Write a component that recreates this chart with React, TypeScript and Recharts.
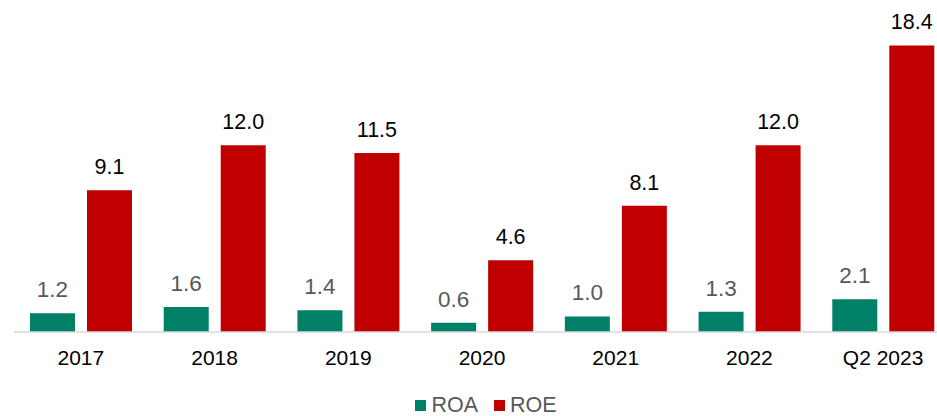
import React from 'react';
import { BarChart, Bar, XAxis, YAxis, Legend, LabelList } from 'recharts';

const categories = ['2017', '2018', '2019', '2020', '2021', '2022', 'Q2 2023'];
const roaValues = [1.2, 1.6, 1.4, 0.6, 1.0, 1.3, 2.1];
const roeValues = [9.1, 12.0, 11.5, 4.6, 8.1, 12.0, 18.4];

const data = categories.map((year, i) => ({
  year,
  ROA: roaValues[i],
  ROE: roeValues[i],
}));

const GREEN = '#008066';
const RED = '#C00000';
const FONT = 'Arial, "Liberation Sans", sans-serif';

function LegendContent() {
  const items = [
    { name: 'ROA', color: GREEN },
    { name: 'ROE', color: RED },
  ];
  return (
    <div
      style={{
        height: 54,
        paddingTop: 33,
        paddingLeft: 7,
        boxSizing: 'border-box',
        display: 'flex',
        justifyContent: 'center',
        gap: 16,
        width: 937,
      }}
    >
      {items.map((it) => (
        <div key={it.name} style={{ display: 'flex', alignItems: 'center', height: 20 }}>
          <span
            style={{ width: 11, height: 11, background: it.color, display: 'inline-block', marginRight: 5 }}
          />
          <span style={{ fontFamily: FONT, fontSize: 21.5, color: '#595959', lineHeight: '20px' }}>
            {it.name}
          </span>
        </div>
      ))}
    </div>
  );
}

export default function App() {
  return (
    <div style={{ position: 'absolute', left: 0, top: 0, width: 937, height: 416, overflow: 'hidden', background: '#fff' }}>
      <BarChart
        width={951}
        height={416}
        data={data}
        margin={{ top: 5, right: 1, bottom: 0, left: 14 }}
        barGap={12}
        barSize={45}
      >
        <XAxis
          dataKey="year"
          height={30}
          axisLine={{ stroke: '#d9d9d9', strokeWidth: 1.5 }}
          tickLine={false}
          tickSize={0}
          tickMargin={18}
          tick={{ fill: '#000', fontSize: 21, fontFamily: FONT }}
          interval={0}
        />
        <YAxis hide domain={[0, 21]} />
        <Legend verticalAlign="bottom" align="left" content={<LegendContent />} />
        <Bar dataKey="ROA" fill={GREEN} isAnimationActive={false}>
          <LabelList
            dataKey="ROA"
            position="top"
            offset={16}
            formatter={(v: unknown) => Number(v).toFixed(1)}
            style={{ fill: '#595959', fontSize: 22.5, fontFamily: FONT }}
          />
        </Bar>
        <Bar dataKey="ROE" fill={RED} isAnimationActive={false}>
          <LabelList
            dataKey="ROE"
            position="top"
            offset={16}
            formatter={(v: unknown) => Number(v).toFixed(1)}
            style={{ fill: '#000', fontSize: 21.5, fontFamily: FONT }}
          />
        </Bar>
      </BarChart>
    </div>
  );
}
